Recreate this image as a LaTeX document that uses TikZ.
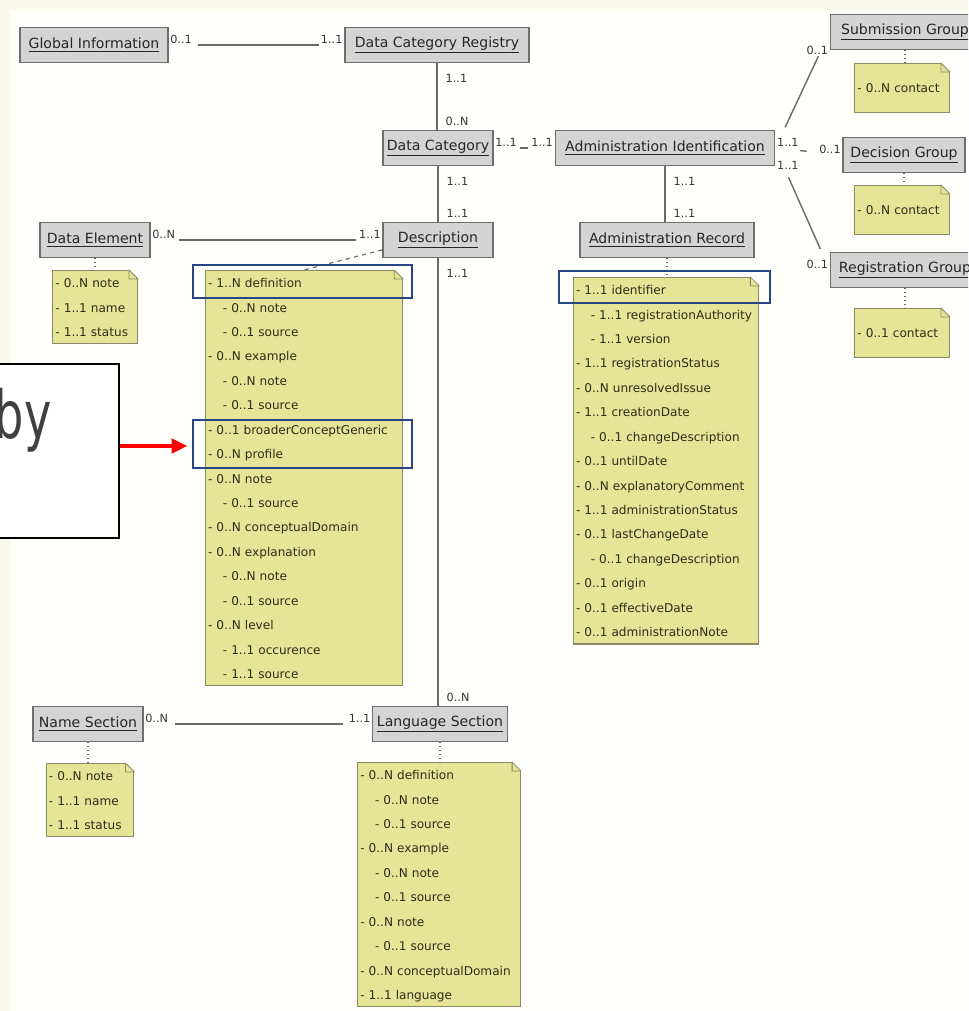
\documentclass[tikz,border=0pt]{standalone}
\usepackage{fontspec}
\setmainfont{DejaVu Sans}
\usepackage{tikz}
\usetikzlibrary{arrows.meta}

\definecolor{bgcream}{RGB}{250,249,236}
\definecolor{bgwhite}{RGB}{255,255,252}
\definecolor{clsfill}{RGB}{212,212,212}
\definecolor{clsdraw}{RGB}{110,110,110}
\definecolor{notefill}{RGB}{230,228,150}
\definecolor{notedraw}{RGB}{140,138,100}
\definecolor{notetext}{RGB}{45,45,25}
\definecolor{hiblue}{RGB}{40,70,130}
\definecolor{linegray}{RGB}{105,105,105}
\definecolor{bygray}{RGB}{64,64,64}

\newcommand\notefont{\fontsize{8.6}{17.37}\selectfont}
\newcommand\ditem{\strut- }
\newcommand\dsub{\strut\hspace*{10.5pt}- }

\tikzset{
  cls/.style={draw=clsdraw, fill=clsfill, line width=1.1pt, minimum height=24.8pt,
    inner xsep=2pt, font=\fontsize{10}{12}\selectfont, text=black!85},
  note/.style={draw=notedraw, fill=notefill, line width=0.8pt, align=left,
    inner xsep=2pt, inner ysep=0pt, font=\notefont, text=notetext},
  mult/.style={font=\fontsize{8}{9}\selectfont, inner sep=1pt, text=black!80},
  assoc/.style={draw=linegray, line width=1pt},
  notelink/.style={draw=linegray, line width=0.8pt},
  hilite/.style={draw=hiblue, line width=2.1pt},
  bybox/.style={draw=black, fill=white, line width=1.1pt},
  bigtext/.style={font=\fontsize{47}{50}\selectfont, text=bygray, inner sep=0pt},
  redarrow/.style={draw=red, line width=2.2pt, -{Triangle[length=11pt,width=10.5pt]}}
}

\begin{document}
\begin{tikzpicture}[x=0.025cm,y=-0.025cm]
  \useasboundingbox (0,0) rectangle (968,1011);
  \clip (0,0) rectangle (968,1011);

  % background
  \fill[bgcream] (0,0) rectangle (968,1011);
  \fill[bgwhite] (10,10) rectangle (968,1011);

  % classes
  \node[cls, minimum width=105pt] (glob) at (94,45) {\underline{Global Information}};
  \node[cls, minimum width=131pt] (dcr) at (437,45) {\underline{Data Category Registry}};
  \node[cls, minimum width=78pt] (dcat) at (438,148) {\underline{Data Category}};
  \node[cls, minimum width=156pt] (adminid) at (665,148) {\underline{Administration Identification}};
  \node[cls, minimum width=106pt] (subgrp) at (905,32) {\underline{Submission Group}};
  \node[cls, minimum width=86.5pt] (decgrp) at (904,155) {\underline{Decision Group}};
  \node[cls, minimum width=106pt] (reggrp) at (905,270) {\underline{Registration Group}};
  \node[cls, minimum width=78pt] (datael) at (95,240) {\underline{Data Element}};
  \node[cls, minimum width=78pt] (desc) at (438,240) {\underline{Description}};
  \node[cls, minimum width=124pt] (adminrec) at (667,240) {\underline{Administration Record}};
  \node[cls, minimum width=78pt] (namesec) at (88,724) {\underline{Name Section}};
  \node[cls, minimum width=95.7pt] (langsec) at (440,724) {\underline{Language Section}};

  % notes
  \node[note, text width=56.3pt, anchor=north] (datanote) at (95,270)
    {\ditem 0..N note\\\ditem 1..1 name\\\ditem 1..1 status};
  \node[note, text width=136.4pt, anchor=north] (descnote) at (304,270)
    {\ditem 1..N definition\\\dsub 0..N note\\\dsub 0..1 source\\
     \ditem 0..N example\\\dsub 0..N note\\\dsub 0..1 source\\
     \ditem 0..1 broaderConceptGeneric\\\ditem 0..N profile\\
     \ditem 0..N note\\\dsub 0..1 source\\\ditem 0..N conceptualDomain\\
     \ditem 0..N explanation\\\dsub 0..N note\\\dsub 0..1 source\\
     \ditem 0..N level\\\dsub 1..1 occurence\\\dsub 1..1 source};
  \node[note, text width=128pt, anchor=north] (adminnote) at (666,277)
    {\ditem 1..1 identifier\\\dsub 1..1 registrationAuthority\\\dsub 1..1 version\\
     \ditem 1..1 registrationStatus\\\ditem 0..N unresolvedIssue\\
     \ditem 1..1 creationDate\\\dsub 0..1 changeDescription\\
     \ditem 0..1 untilDate\\\ditem 0..N explanatoryComment\\
     \ditem 1..1 administrationStatus\\\ditem 0..1 lastChangeDate\\
     \dsub 0..1 changeDescription\\\ditem 0..1 origin\\
     \ditem 0..1 effectiveDate\\\ditem 0..1 administrationNote};
  \node[note, text width=63.4pt, minimum height=34.7pt, anchor=north] (subnote) at (902,63)
    {\ditem 0..N contact};
  \node[note, text width=63.4pt, minimum height=34.7pt, anchor=north] (decnote) at (902,185)
    {\ditem 0..N contact};
  \node[note, text width=63.4pt, minimum height=34.7pt, anchor=north] (regnote) at (902,308)
    {\ditem 0..1 contact};
  \node[note, text width=58.4pt, anchor=north] (namenote) at (90,763)
    {\ditem 0..N note\\\ditem 1..1 name\\\ditem 1..1 status};
  \node[note, text width=112pt, anchor=north] (langnote) at (439,762)
    {\ditem 0..N definition\\\dsub 0..N note\\\dsub 0..1 source\\
     \ditem 0..N example\\\dsub 0..N note\\\dsub 0..1 source\\
     \ditem 0..N note\\\dsub 0..1 source\\
     \ditem 0..N conceptualDomain\\\ditem 1..1 language};

  % folded corners
  \foreach \n in {datanote,descnote,adminnote,subnote,decnote,regnote,namenote,langnote}{
    \fill[bgwhite] (\n.north east) ++(-10,-1) -- ++(11,0) -- ++(0,11) -- cycle;
    \draw[notedraw, line width=0.6pt] (\n.north east) ++(-9,0) -- ++(9,9)
      ++(-9,-9) -- ++(0,9) -- ++(9,0);
  }

  % associations
  \draw[assoc, shorten <=20.6pt, shorten >=17.7pt] (glob.east) -- (dcr.west);
  \node[mult, anchor=south west] (m1) at (glob.east) {0..1};
  \node[mult, anchor=south east] (m2) at (dcr.west) {1..1};

  \draw[assoc] (dcr.south) -- (dcr.south |- dcat.north);
  \node[mult, anchor=north west, xshift=5pt, yshift=-7pt] (m3) at (dcr.south) {1..1};
  \node[mult, anchor=south west, xshift=5pt, yshift=2pt] (m4) at (dcr.south |- dcat.north) {0..N};

  \draw[assoc, shorten <=19pt, shorten >=19pt] (dcat.east) -- (adminid.west);
  \node[mult, anchor=south west] (m5) at (dcat.east) {1..1};
  \node[mult, anchor=south east] (m6) at (adminid.west) {1..1};

  \draw[assoc] (dcat.south) -- (dcat.south |- desc.north);
  \node[mult, anchor=north west, xshift=5pt, yshift=-7pt] (m7) at (dcat.south) {1..1};
  \node[mult, anchor=south west, xshift=5pt, yshift=2pt] (m8) at (dcat.south |- desc.north) {1..1};

  \draw[assoc, shorten <=20pt, shorten >=19pt] (datael.east) -- (desc.west);
  \node[mult, anchor=south west] (m9) at (datael.east) {0..N};
  \node[mult, anchor=south east] (m10) at (desc.west) {1..1};

  \draw[assoc] (desc.south) -- (desc.south |- langsec.north);
  \node[mult, anchor=north west, xshift=5pt, yshift=-7pt] (m11) at (desc.south) {1..1};
  \node[mult, anchor=south west, xshift=5pt, yshift=2pt] (m12) at (desc.south |- langsec.north) {0..N};

  \draw[assoc, shorten <=22pt, shorten >=20.5pt] (namesec.east) -- (langsec.west);
  \node[mult, anchor=south west] (m13) at (namesec.east) {0..N};
  \node[mult, anchor=south east] (m14) at (langsec.west) {1..1};

  \draw[assoc] (adminid.south) -- (adminid.south |- adminrec.north);
  \node[mult, anchor=north west, xshift=5pt, yshift=-7pt] (m15) at (adminid.south) {1..1};
  \node[mult, anchor=south west, xshift=5pt, yshift=2pt] (m16) at (adminid.south |- adminrec.north) {1..1};

  \draw[assoc, shorten <=16.3pt, shorten >=19pt] (adminid.east) -- (subgrp.west);
  \draw[assoc, shorten <=17.7pt, shorten >=25.5pt] (adminid.east) -- (decgrp.west);
  \draw[assoc, shorten <=22.7pt, shorten >=16.3pt] (adminid.east) -- (reggrp.west);
  \node[mult, anchor=south west] (m17) at (adminid.east) {1..1};
  \node[mult, anchor=north west, yshift=-8pt] (m18) at (adminid.east) {1..1};
  \node[mult, anchor=east] (m19) at (subgrp.south west) {0..1};
  \node[mult, anchor=south east] (m20) at (decgrp.west) {0..1};
  \node[mult, anchor=south east] (m21) at (reggrp.west) {0..1};

  % note links
  \draw[notelink, dotted] (datael.south) -- (datael.south |- datanote.north);
  \draw[notelink, dashed] (desc.190) -- (descnote.north);
  \draw[notelink, dotted] (adminrec.south) -- (adminrec.south |- adminnote.north);
  \draw[notelink, dotted] (subgrp.south) -- (subgrp.south |- subnote.north);
  \draw[notelink, dotted] (decgrp.south) -- (decgrp.south |- decnote.north);
  \draw[notelink, dotted] (reggrp.south) -- (reggrp.south |- regnote.north);
  \draw[notelink, dotted] (namesec.south) -- (namesec.south |- namenote.north);
  \draw[notelink, dotted] (langsec.south) -- (langsec.south |- langnote.north);

  % highlights
  \draw[hilite] (193,265) rectangle (412,298);
  \draw[hilite] (193,420) rectangle (412,468);
  \draw[hilite] (559,271) rectangle (770,303);

  % callout
  \node[bybox, minimum width=112.7pt, minimum height=123.4pt] (bybox) at (40,451) {};
  \node[bigtext, anchor=base east] (bytext) at (52,438) {\scalebox{0.7}[1]{by}};
  \coordinate (tip) at (187,446);
  \draw[redarrow] (bybox.east |- tip) -- (tip);
\end{tikzpicture}
\end{document}
